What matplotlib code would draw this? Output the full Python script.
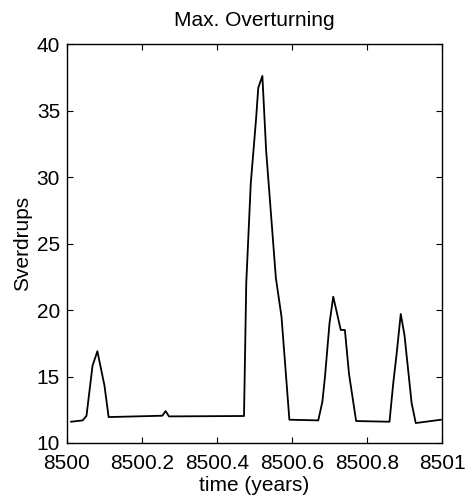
import matplotlib
matplotlib.use("Agg")
import matplotlib.pyplot as plt

plt.rcParams['font.family'] = ['Liberation Sans', 'DejaVu Sans']

# time (years) and maximum overturning (Sv)
time = [8500.011, 8500.042, 8500.052, 8500.068, 8500.081, 8500.100, 8500.111,
        8500.254, 8500.263, 8500.272, 8500.472, 8500.478, 8500.490, 8500.504,
        8500.510, 8500.521, 8500.531, 8500.557, 8500.572, 8500.593, 8500.670,
        8500.681, 8500.688, 8500.700, 8500.710, 8500.730, 8500.741, 8500.752,
        8500.771, 8500.860, 8500.870, 8500.879, 8500.890, 8500.900, 8500.919,
        8500.930, 8500.997]
overturning = [11.6, 11.7, 12.05, 15.8, 16.9, 14.3, 11.95,
               12.05, 12.4, 12.0, 12.03, 22.0, 29.5, 34.3,
               36.7, 37.6, 32.0, 22.4, 19.5, 11.75, 11.7,
               13.1, 15.0, 19.0, 21.0, 18.5, 18.5, 15.2,
               11.65, 11.6, 14.5, 16.7, 19.7, 18.1, 13.0,
               11.5, 11.75]

fig = plt.figure(figsize=(4.67, 5.03), dpi=100)
ax = fig.add_axes([67 / 467, 1 - 443 / 503, 375 / 467, 399 / 503])
ax.plot(time, overturning, color='black', lw=1.3)

ax.set_xlim(8500, 8501)
ax.set_ylim(10, 40)
ax.set_xticks([8500, 8500.2, 8500.4, 8500.6, 8500.8, 8501])
ax.set_xticklabels(['8500', '8500.2', '8500.4', '8500.6', '8500.8', '8501'])
ax.set_yticks([10, 15, 20, 25, 30, 35, 40])
ax.tick_params(direction='in', top=True, right=True, length=4,
               labelsize=15, width=0.8)
ax.tick_params(axis='x', pad=8)
ax.tick_params(axis='y', pad=5)
for s in ax.spines.values():
    s.set_linewidth(1.0)

ax.set_title('Max. Overturning', fontsize=15, pad=13)
ax.set_xlabel('time (years)', fontsize=15, labelpad=2)
ax.set_ylabel('Sverdrups', fontsize=15, labelpad=3)

fig.savefig('out.png', dpi=100)
